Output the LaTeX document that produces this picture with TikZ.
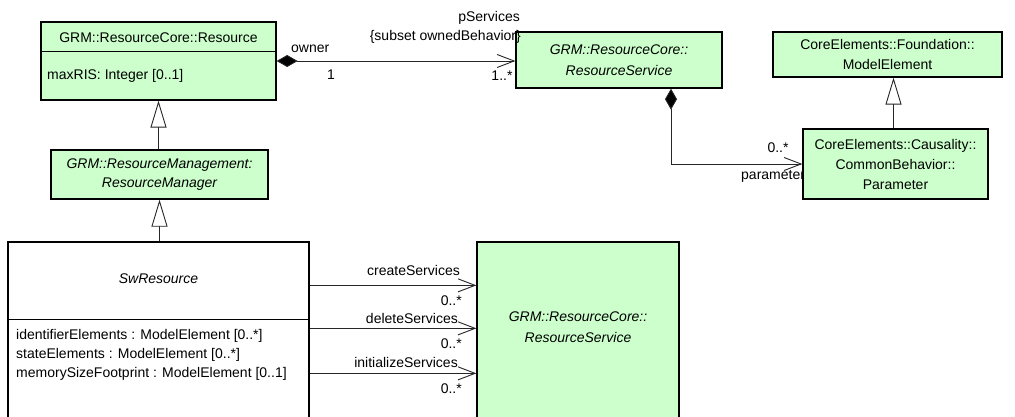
\documentclass[tikz,border=0pt]{standalone}
\usepackage{fontspec}
\setmainfont{Liberation Sans}
\usetikzlibrary{arrows.meta,calc}
\definecolor{boxgreen}{HTML}{CCFFCC}
\begin{document}
\begin{tikzpicture}[x=1pt,y=-1pt,
  cls/.style={draw=black, line width=1.3pt, fill=boxgreen, inner sep=0pt},
  wcls/.style={draw=black, line width=1.3pt, fill=white, inner sep=0pt},
  txt/.style={inner sep=0pt, font=\fontsize{14}{19.5}\selectfont, align=center},
  lbl/.style={inner sep=0pt, font=\fontsize{14}{19}\selectfont},
  conn/.style={draw=black!85, line width=0.9pt},
  nav/.style={-{Straight Barb[length=17pt,width=13pt,line width=0.9pt]}},
  comp/.style={{Diamond[length=21pt,width=12pt,fill=black]}-{Straight Barb[length=17pt,width=13pt,line width=0.9pt]}},
  gen/.style={-{Triangle[open,length=27pt,width=16pt,fill=white,line width=0.9pt]}}
]
\useasboundingbox (0,0) rectangle (1015,417);
\clip (0,0) rectangle (1015,417);
\fill[white] (0,0) rectangle (1015,417);

% Labels drawn before boxes so boxes cover them
\node[lbl, anchor=west] (lparam) at (741,176) {parameter};

% Resource
\node[cls, minimum width=235pt, minimum height=78pt] (res) at (158.5,61) {};
\draw[line width=1pt] (res.west |- 0,52) -- (res.east |- 0,52);
\node[txt] (restitle) at (158.5,38) {GRM::ResourceCore::Resource};
\node[lbl, anchor=west] (resattr) at (47,76) {maxRIS: Integer [0..1]};

% ResourceService (top)
\node[cls, minimum width=206pt, minimum height=56pt, txt, font=\fontsize{14}{21}\itshape] (rs1) at (619,60) {GRM::ResourceCore::\\ResourceService};

% ModelElement
\node[cls, minimum width=229pt, minimum height=45pt, txt] (me) at (887.5,54.5) {CoreElements::Foundation::\\ModelElement};

% Parameter
\node[cls, minimum width=185pt, minimum height=70pt, txt, font=\fontsize{14}{20}\selectfont] (param) at (895.5,164) {CoreElements::Causality::\\CommonBehavior::\\Parameter};

% ResourceManager
\node[cls, minimum width=217pt, minimum height=49pt, txt, font=\fontsize{14}{19}\itshape] (rm) at (159.5,174.5) {GRM::ResourceManagement:\\ResourceManager};

% SwResource
\node[wcls, minimum width=301pt, minimum height=200pt] (sw) at (158.5,342) {};
\draw[line width=1pt] (sw.west |- 0,319) -- (sw.east |- 0,319);
\node[txt, font=\fontsize{14}{19}\itshape] (swtitle) at (158.5,279) {SwResource};
\node[lbl, anchor=north west, align=left, font=\fontsize{14}{19}\selectfont] (swattr) at (16,329) {identifierElements : ModelElement [0..*]\\stateElements : ModelElement [0..*]\\memorySizeFootprint : ModelElement [0..1]};

% ResourceService (bottom)
\node[cls, minimum width=202pt, minimum height=200pt] (rs2) at (578,342) {};
\node[txt, font=\fontsize{14}{21}\itshape] (rs2title) at (578,327) {GRM::ResourceCore::\\ResourceService};

% Generalizations
\draw[conn, gen] (sw.north -| rm.south) -- (rm.south);
\draw[conn, gen] (rm.north -| res.south) -- (res.south);
\draw[conn, gen] ([xshift=-2pt]param.north) -- ([xshift=-2pt]param.north |- me.south);

% Composition Resource -> ResourceService
\draw[conn, comp] (res.east) -- (res.east -| rs1.west);
\node[lbl, anchor=south west] (lowner) at (291,53) {owner};
\node[lbl] (lone) at (331,75) {1};
\node[lbl] (lmany) at (502,76) {1..*};
\node[lbl, anchor=east] (lpserv) at (520,18) {pServices};
\node[lbl, anchor=east] (lsubset) at (521,37) {\{subset ownedBehavior\}};

% Composition ResourceService -> Parameter
\draw[conn, comp] ([xshift=52pt]rs1.south) |- (param.west);
\node[lbl] (lpm) at (778,148) {0..*};

% Navigable associations SwResource -> ResourceService
\draw[conn, nav] ([yshift=-44pt]sw.north east) -- ([yshift=-44pt]rs2.north west);
\draw[conn, nav] ([yshift=-87pt]sw.north east) -- ([yshift=-87pt]rs2.north west);
\draw[conn, nav] ([yshift=-132pt]sw.north east) -- ([yshift=-132pt]rs2.north west);
\node[lbl, anchor=east] (lcreate) at (460,270) {createServices};
\node[lbl, anchor=east] (lc) at (462,301) {0..*};
\node[lbl, anchor=east] (ldelete) at (458,318) {deleteServices};
\node[lbl, anchor=east] (ld) at (462,344) {0..*};
\node[lbl, anchor=east] (linit) at (458,362) {initializeServices};
\node[lbl, anchor=east] (li) at (462,389) {0..*};
\end{tikzpicture}
\end{document}
